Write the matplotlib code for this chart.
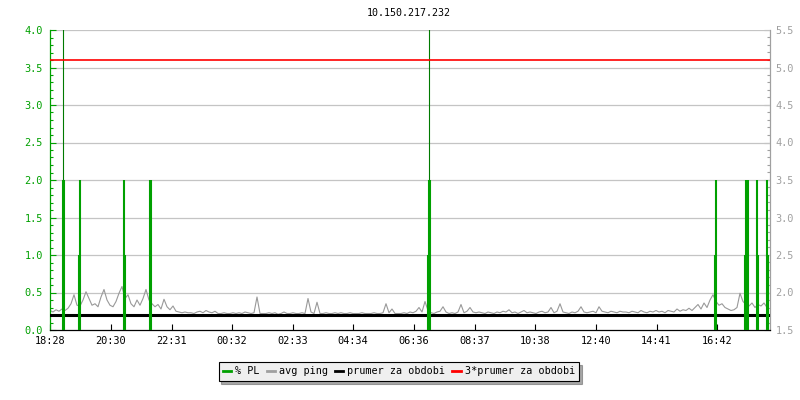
import numpy as np
import matplotlib
matplotlib.use('Agg')
import matplotlib.pyplot as plt
from matplotlib.lines import Line2D

title = '10.150.217.232'

# casove osy v minutach od 18:28
tick_minutes = [0, 122, 243, 364, 485, 606, 728, 849, 970, 1092, 1213, 1334]
tick_labels = ['18:28', '20:30', '22:31', '00:32', '02:33', '04:34',
               '06:36', '08:37', '10:38', '12:40', '14:41', '16:42']

# avg ping, jeden vzorek kazdych 6 minut (prava osa)
ping = [
    1.76, 1.74, 1.77, 1.75, 1.78, 1.76, 1.79, 1.85, 1.97, 1.83,
    1.82, 1.90, 2.01, 1.92, 1.83, 1.85, 1.81, 1.94, 2.04, 1.90,
    1.83, 1.81, 1.88, 1.99, 2.08, 1.92, 1.97, 1.85, 1.81, 1.90,
    1.83, 1.92, 2.04, 1.90, 1.85, 1.81, 1.84, 1.78, 1.91, 1.81,
    1.77, 1.82, 1.75, 1.74, 1.73, 1.74, 1.73, 1.73,
    1.72, 1.74, 1.75, 1.73, 1.76, 1.74, 1.73, 1.75,
    1.72, 1.72, 1.73, 1.72, 1.72, 1.73, 1.72, 1.73, 1.72, 1.74, 1.73, 1.72, 1.73,
    1.94,
    1.72, 1.72, 1.72, 1.73, 1.72, 1.73, 1.71, 1.72, 1.74, 1.72, 1.72, 1.73, 1.72, 1.72, 1.73, 1.72,
    1.92, 1.74, 1.72, 1.87,
    1.72, 1.72, 1.73, 1.72, 1.72, 1.73,
    1.72, 1.73, 1.72, 1.72, 1.73, 1.72, 1.72, 1.72, 1.73, 1.72, 1.72, 1.72, 1.73, 1.72, 1.72, 1.73,
    1.85, 1.73, 1.78, 1.72, 1.72, 1.72, 1.73, 1.72,
    1.74, 1.73, 1.75, 1.80, 1.74, 1.88, 1.76, 1.73, 1.72, 1.74, 1.75, 1.81,
    1.74, 1.72, 1.73, 1.72, 1.74, 1.84, 1.73, 1.75, 1.80, 1.74, 1.73, 1.74,
    1.73, 1.72, 1.74, 1.73, 1.72, 1.74, 1.73, 1.75, 1.74, 1.77,
    1.73, 1.74, 1.72, 1.74, 1.76, 1.73, 1.74, 1.73, 1.72, 1.74,
    1.75, 1.73, 1.74, 1.80, 1.73, 1.75, 1.85, 1.74, 1.73, 1.72,
    1.74, 1.73, 1.75, 1.81, 1.74, 1.73, 1.74, 1.75, 1.73, 1.81,
    1.75, 1.74, 1.73, 1.75, 1.74, 1.73, 1.75, 1.74,
    1.74, 1.73, 1.75, 1.74, 1.73, 1.76, 1.74, 1.73, 1.75, 1.74,
    1.76, 1.74, 1.75, 1.73, 1.76, 1.75, 1.74, 1.78, 1.75, 1.77, 1.76, 1.79, 1.76,
    1.80, 1.84, 1.78, 1.86, 1.80, 1.90, 1.97, 1.88, 1.83, 1.85,
    1.80, 1.78, 1.76, 1.77, 1.80, 1.99, 1.88, 1.84, 1.82, 1.86,
    1.80, 1.84, 1.82, 1.86, 1.80,
]

# % PL - nenulove vzorky (minuta, hodnota)
pl_minutes = [26, 28, 58, 60, 148, 150, 200, 202, 756, 758, 760,
              1330, 1332, 1390, 1392, 1394, 1396, 1414, 1416, 1434, 1436]
pl_values = [4.5, 2.0, 1.0, 2.0, 2.0, 1.0, 2.0, 2.0, 1.0, 4.5, 2.0,
             1.0, 2.0, 1.0, 2.0, 1.0, 2.0, 2.0, 1.0, 2.0, 1.0]

prumer = 1.7
prumer3 = 5.1
offset = 1.5  # prava osa = leva osa + 1.5

green = '#00a000'
grey = '#a0a0a0'
mono = 'DejaVu Sans Mono'
fs = 7.4

fig = plt.figure(figsize=(8, 4), dpi=100)
ax = fig.add_axes([50 / 800, 70 / 400, 720 / 800, 300 / 400])

ping_x = np.arange(len(ping)) * 6
ping_y = np.array(ping) - offset

for y in np.arange(0.5, 4.01, 0.5):
    ax.axhline(y, color='#c4c4c4', lw=0.9, zorder=1)

ax.plot(ping_x, ping_y, color='#999999', lw=0.8, zorder=2)
ax.axhline(prumer - offset, color='black', lw=2.2, zorder=3)

pl_x = np.array(pl_minutes)
pl_y = np.array(pl_values)
big = pl_y > 4
ax.vlines(pl_x[big], 2.0, pl_y[big], color='#007a00', lw=0.8, zorder=4)
ax.vlines(pl_x[big], 0, 2.0, color=green, lw=1.5, zorder=4)
ax.vlines(pl_x[~big], 0, pl_y[~big], color=green, lw=1.5, zorder=4)
ax.axhline(prumer3 - offset, color='red', lw=1.2, zorder=5)

ax.set_xlim(0, 1440)
ax.set_ylim(0, 4)

ax.set_xticks(tick_minutes)
ax.set_xticklabels(tick_labels, fontfamily=mono, fontsize=fs)
ax.tick_params(axis='x', direction='in', length=4, width=0.8, pad=4, colors='black')

ax.set_yticks(np.arange(0, 4.01, 0.5))
ax.set_yticks(np.arange(0, 4.01, 0.1), minor=True)
ax.set_yticklabels(['%.1f' % v for v in np.arange(0, 4.01, 0.5)],
                   fontfamily=mono, fontsize=fs)
ax.tick_params(axis='y', which='major', direction='in', length=4.3, width=0.8,
               pad=5, colors=green)
ax.tick_params(axis='y', which='minor', direction='in', length=2.2, width=0.8,
               colors=green)

sec = ax.secondary_yaxis('right', functions=(lambda y: y + offset, lambda y: y - offset))
sec.set_yticks(np.arange(1.5, 5.51, 0.5))
sec.set_yticks(np.arange(1.5, 5.51, 0.1), minor=True)
sec.set_yticklabels(['%.1f' % v for v in np.arange(1.5, 5.51, 0.5)],
                    fontfamily=mono, fontsize=fs)
sec.tick_params(axis='y', which='major', direction='in', length=4.3, width=0.8,
                pad=4, colors=grey)
sec.tick_params(axis='y', which='minor', direction='in', length=2.2, width=0.8,
                colors=grey)
sec.spines['right'].set_color(grey)
sec.spines['right'].set_linewidth(0.9)

ax.spines['top'].set_visible(False)
ax.spines['right'].set_visible(False)
ax.spines['left'].set_color(green)
ax.spines['left'].set_linewidth(0.9)
ax.spines['bottom'].set_color('black')
ax.spines['bottom'].set_linewidth(0.9)

fig.text(409 / 800, 1 - 13 / 400, title, ha='center', va='center',
         fontfamily=mono, fontsize=7.2)

handles = [Line2D([], [], color=green, lw=2),
           Line2D([], [], color=grey, lw=2),
           Line2D([], [], color='black', lw=2),
           Line2D([], [], color='red', lw=2)]
labels = ['% PL', 'avg ping', 'prumer za obdobi', '3*prumer za obdobi']
leg = fig.legend(handles, labels, loc='center', bbox_to_anchor=(399 / 800, 1 - 371.5 / 400),
                 ncol=4, frameon=True, fancybox=False, shadow={'color': '#555555'},
                 edgecolor='black', facecolor='#efefef', framealpha=1,
                 handlelength=0.8, handletextpad=0.4, columnspacing=0.7,
                 borderpad=0.45, prop={'family': mono, 'size': 7.3})
leg.get_frame().set_linewidth(0.8)

fig.savefig('out.png', dpi=100)
